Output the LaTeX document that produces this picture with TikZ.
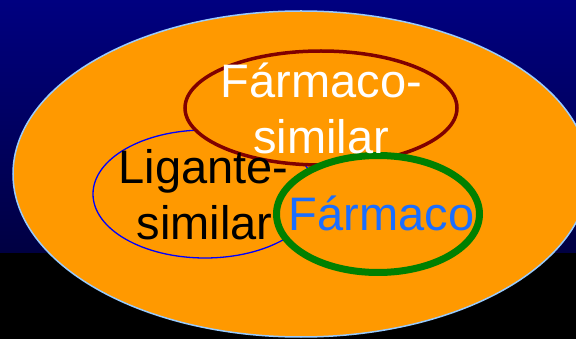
\documentclass[tikz,border=0pt]{standalone}
\usepackage{fontspec}
\setmainfont{Liberation Sans}
\definecolor{orng}{HTML}{FF9900}
\definecolor{rimblue}{HTML}{99CCFF}
\definecolor{brownline}{HTML}{800000}
\definecolor{greenline}{HTML}{008000}
\definecolor{textblue}{HTML}{1A6EFF}
\definecolor{navytop}{RGB}{0,0,128}
\definecolor{navybot}{RGB}{0,0,66}
\tikzset{
  bigtext/.style={font=\fontsize{47}{56}\selectfont, anchor=base, inner sep=0pt},
  setshape/.style={fill=orng}
}
\begin{document}
\begin{tikzpicture}[x=1pt,y=-1pt]
\useasboundingbox (0,0) rectangle (576,339);
% background
\shade[top color=navytop, bottom color=navybot] (0,0) rectangle (576,253);
\fill[black] (0,253) rectangle (576,339);
% universe ellipse
\draw[setshape, draw=rimblue, line width=1.5pt] (301,174) ellipse [x radius=288, y radius=163];
% ligand-like
\draw[blue, line width=1.3pt] (205,194) ellipse [x radius=112, y radius=64];
% drug-like
\draw[setshape, draw=brownline, line width=3.5pt] (321,108) ellipse [x radius=136, y radius=57];
% drug
\draw[setshape, draw=greenline, line width=7pt] (378,214) ellipse [x radius=101.5, y radius=58.5];
% texts
\node[bigtext, text=white] (fs1) at (321.5,98) {Fármaco-};
\node[bigtext, text=white] (fs2) at (321,154) {similar};
\node[bigtext, text=black] (ls1) at (203.5,184) {Ligante-};
\node[bigtext, text=black] (ls2) at (204.5,240) {similar};
\node[bigtext, text=textblue] (f) at (381.5,231) {Fármaco};
\end{tikzpicture}
\end{document}
